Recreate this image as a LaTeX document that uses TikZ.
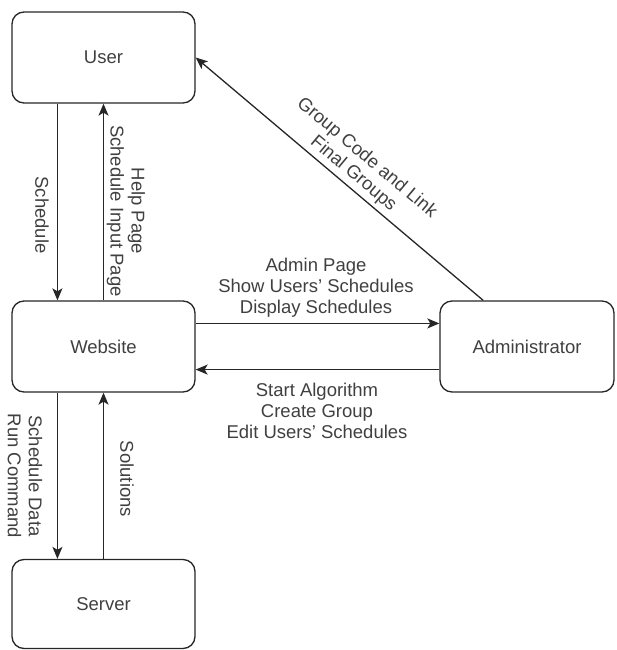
\documentclass[tikz,border=0pt]{standalone}
\usepackage{fontspec}
\setmainfont{Liberation Sans}
\usetikzlibrary{arrows.meta,calc}
\newcommand\dfont{\fontsize{18.5}{21}\selectfont}
\begin{document}
\begin{tikzpicture}[x=1pt,y=-1pt,
  box/.style={draw=black!85, line width=1.3pt, rounded corners=12pt, minimum width=183pt, minimum height=91pt, inner sep=0pt, font=\dfont, text=black!75},
  arr/.style={draw=black!85, line width=1.3pt, -{Stealth[length=12pt,width=10pt,inset=3pt]}},
  lbl/.style={font=\dfont, text=black!75, align=center, inner sep=0pt}]
\useasboundingbox (0,0) rectangle (616,650);
\node[box] (user) at (103.5,57.5) {User};
\node[box] (web) at (103.5,346.5) {Website};
\node[box, minimum width=174pt] (admin) at (527,346.5) {Administrator};
\node[box, minimum height=89pt] (server) at (103.5,604) {Server};

% User <-> Website
\draw[arr] ($(user.south west)!.25!(user.south east)$) -- ($(web.north west)!.25!(web.north east)$);
\draw[arr] (web.north) -- (user.south);
% Website <-> Server
\draw[arr] ($(web.south west)!.25!(web.south east)$) -- ($(server.north west)!.25!(server.north east)$);
\draw[arr] (server.north) -- (web.south);
% Website <-> Administrator
\draw[arr] ($(web.north east)!.25!(web.south east)$) -- ($(admin.north west)!.25!(admin.south west)$);
\draw[arr] ($(admin.north west)!.75!(admin.south west)$) -- ($(web.north east)!.75!(web.south east)$);
% Administrator -> User
\draw[arr] ($(admin.north west)!.25!(admin.north east)$) -- (user.east);

% labels
\node[lbl, rotate=-90] (l1) at (42,215) {Schedule};
\node[lbl, rotate=-90] (l2) at (126,211) {Help Page\\Schedule Input Page};
\node[lbl, rotate=-90] (l3) at (25,476) {Schedule Data\\Run Command};
\node[lbl, rotate=-90] (l4) at (127,479) {Solutions};
\node[lbl] (l5) at (316,288) {Admin Page\\Show Users' Schedules\\Display Schedules};
\node[lbl] (l6) at (317,411) {Start Algorithm\\Create Group\\Edit Users' Schedules};
\node[lbl, rotate=-39.9] (l7) at (360,166) {Group Code and Link\\Final Groups};
\end{tikzpicture}
\end{document}
